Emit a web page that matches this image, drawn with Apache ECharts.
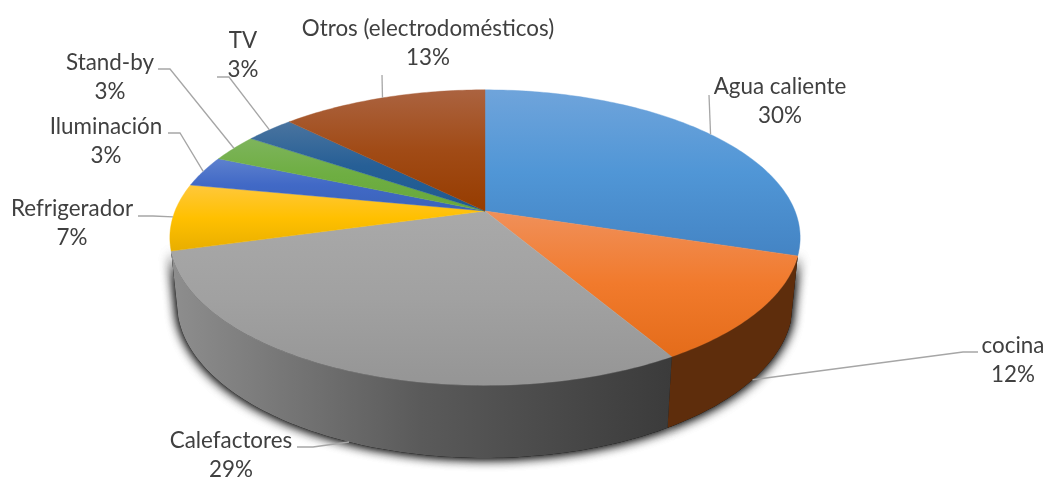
<!DOCTYPE html>
<html>
<head>
<meta charset="utf-8">
<style>html,body{margin:0;padding:0;background:#fff}#c{width:1047px;height:477px}</style>
<script src="https://cdn.jsdelivr.net/npm/echarts@6/dist/echarts.min.js"></script>
</head>
<body>
<div id="c"></div>
<script>
// Data (shares of the total, in percent)
const categories = ['Agua caliente','cocina','Calefactores','Refrigerador','Iluminación','Stand-by','TV','Otros (electrodomésticos)'];
const shares = [29.8, 11.7, 29.2, 7.3, 3.4, 3.0, 3.0, 12.6];

// Styling, one row per category
const topStops = [
  ['#6FA4DB','#5096D6','#4484C4'],
  ['#F0905A','#F17A2C','#E46C1A'],
  ['#A9A9A9','#A1A1A1','#959595'],
  ['#FFC83C','#FFC000','#E8AE00'],
  ['#5E81CE','#4169C6','#3A63BA'],
  ['#7EB45C','#6EAE42','#68A83C'],
  ['#4A749F','#265F96','#1E5A90'],
  ['#AB6340','#A14B16','#963C00']
];
const wallStops = [
  null,
  ['#5E2D0C','#5E2D0C','#5E2D0C'],
  ['#8E8E8E','#5A5A5A','#3B3B3B'],
  null,null,null,null,null
];
// Label layout: label centre, then the elbow of the leader line
const labelLayout = [
  {c:[780,101], elbow:[[709,95]]},
  {c:[1013,360], elbow:[[978,352],[963,352]]},
  {c:[231,455], elbow:[[297,447],[313,447]]},
  {c:[72,223], elbow:[[138,216],[153,216]]},
  {c:[106,141], elbow:[[168,133],[180,133]]},
  {c:[110,77], elbow:[[158,69],[170,69]]},
  {c:[243,55], elbow:[[217,77],[229,77]]},
  {c:[428,43], elbow:[[382,75]]}
];

// Perspective view of the pie disc
const view = {cx:485, topY:211, botY:275, topA:310, botA:303, topB:143, botB:150, k:0.18};
const total = shares.reduce((a,b)=>a+b,0);
const starts = [];
shares.reduce((acc,v,i)=>{starts[i]=acc;return acc+v;},0);
const toAngle = p => p/total*360*Math.PI/180;
function project(theta, lower){
  const w = 1 + view.k*Math.cos(theta);
  const A = lower?view.botA:view.topA, B = lower?view.botB:view.topB, Y = lower?view.botY:view.topY;
  return [view.cx + A*Math.sin(theta)/w, Y - B*Math.cos(theta)/w];
}
function arc(t0,t1,lower){
  const n = Math.max(2,Math.ceil(Math.abs(t1-t0)/(Math.PI/180)));
  const out=[];
  for(let i=0;i<=n;i++) out.push(project(t0+(t1-t0)*i/n,lower));
  return out;
}
const range = i => [toAngle(starts[i]), toAngle(starts[i]+shares[i])];
const isFront = i => { const r=range(i); return Math.cos((r[0]+r[1])/2) < -view.k; };
const grad = s=>({type:'linear',x:0,y:0,x2:0,y2:1,colorStops:[
  {offset:0,color:s[0]},{offset:0.5,color:s[1]},{offset:1,color:s[2]}]});

const seriesData = categories.map((name,i)=>({name,value:shares[i]}));

function wallPoints(i){
  const r=range(i);
  return arc(r[0],r[1],true).concat(arc(r[1],r[0],false));
}
function renderShadow(params,api){
  const i=params.dataIndex;
  if(!isFront(i)) return {type:'group',children:[]};
  const style={fill:'#222',shadowBlur:12,shadowColor:'rgba(0,0,0,0.95)'};
  return {type:'group',silent:true,children:[
    {type:'polygon',shape:{points:wallPoints(i)},style},
    {type:'polygon',shape:{points:wallPoints(i)},style}
  ]};
}
function renderWall(params,api){
  const i=params.dataIndex;
  if(!isFront(i)) return {type:'group',children:[]};
  const s=wallStops[i];
  return {type:'polygon',shape:{points:wallPoints(i)},silent:true,
    style:{fill:{type:'linear',x:1,y:0,x2:0,y2:0,colorStops:[
      {offset:0,color:s[2]},{offset:0.5,color:s[1]},{offset:1,color:s[0]}]}}};
}
function renderTop(params,api){
  const i=params.dataIndex;
  const r=range(i);
  const pts=[[view.cx,view.topY]].concat(arc(r[0],r[1],false));
  const fill=grad(topStops[i]);
  return {type:'polygon',shape:{points:pts},silent:true,
    style:{fill:fill,stroke:fill,lineWidth:0.4}};
}
function renderLabel(params,api){
  const i=params.dataIndex;
  const r=range(i), mid=(r[0]+r[1])/2;
  const anchor=project(mid,isFront(i));
  const lay=labelLayout[i];
  return {type:'group',silent:true,children:[
    {type:'polyline',shape:{points:lay.elbow.concat([anchor])},
     style:{fill:null,stroke:'#A6A6A6',lineWidth:1.3}},
    {type:'text',style:{
      text:categories[i]+'\n'+Math.round(api.value(0))+'%',
      x:lay.c[0],y:lay.c[1],align:'center',verticalAlign:'middle',
      fill:'#404040',font:'22.4px Lato',lineHeight:29}}
  ]};
}
function layer(renderItem,z){
  return {type:'custom',coordinateSystem:'none',data:seriesData,renderItem,z,animation:false,silent:true,clip:false};
}
const chart=echarts.init(document.getElementById('c'),null,{renderer:'canvas',width:1047,height:477});
chart.setOption({
  backgroundColor:'#fff',
  animation:false,
  tooltip:{show:false},
  series:[layer(renderShadow,1),layer(renderWall,2),layer(renderTop,3),layer(renderLabel,4)]
});
</script>
</body>
</html>
